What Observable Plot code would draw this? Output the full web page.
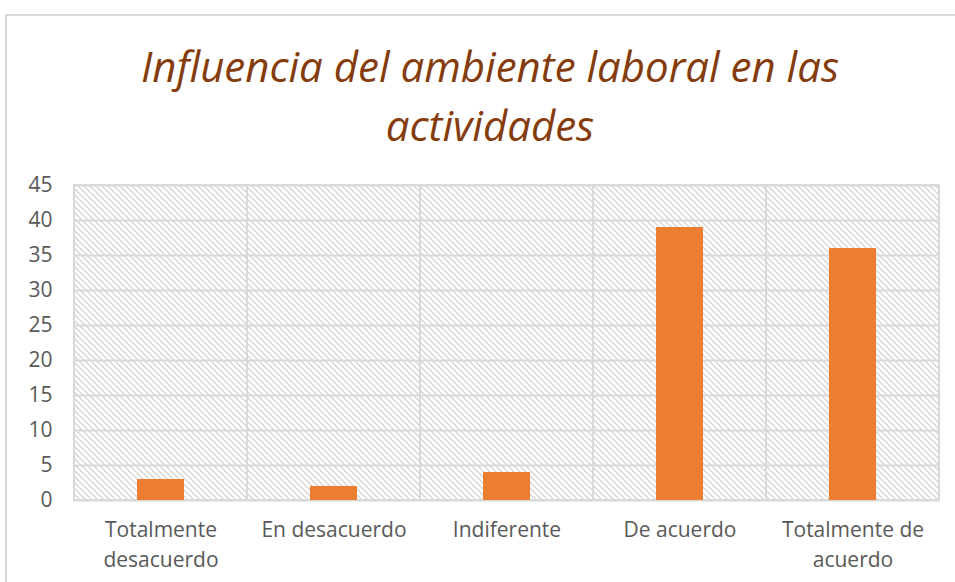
<!DOCTYPE html>
<html>
<head>
<meta charset="utf-8">
<script src="https://cdn.jsdelivr.net/npm/d3@7"></script>
<script src="https://cdn.jsdelivr.net/npm/@observablehq/plot@0.6"></script>
<style>
  html, body { margin: 0; padding: 0; background: #fff; overflow: hidden; width: 955px; height: 582px; }
  #frame { position: absolute; left: 5px; top: 14px; width: 970px; height: 600px; border: 2px solid #d9d9d9; box-sizing: border-box; }
  #title { position: absolute; left: 0; top: 36px; width: 980px; text-align: center; font-family: "Open Sans", Lato, sans-serif; font-style: italic; font-size: 42px; line-height: 59px; color: #843C0C; }
  #chart { position: absolute; left: 0; top: 150px; }
</style>
</head>
<body>
<div id="frame"></div>
<div id="title">Influencia del ambiente laboral en las<br>actividades</div>
<div id="chart"></div>
<script>
const categories = ["Totalmente desacuerdo", "En desacuerdo", "Indiferente", "De acuerdo", "Totalmente de acuerdo"];
const categoryLabels = ["Totalmente\ndesacuerdo", "En desacuerdo", "Indiferente", "De acuerdo", "Totalmente de\nacuerdo"];
const values = [3, 2, 4, 39, 36];
const yTicks = [0, 5, 10, 15, 20, 25, 30, 35, 40, 45];

const data = categories.map((c, i) => ({category: c, value: values[i]}));
const labelOf = new Map(categories.map((c, i) => [c, categoryLabels[i]]));
const yMax = yTicks[yTicks.length - 1];

const chart = Plot.plot({
  width: 955,
  height: 432,
  marginTop: 35,
  marginBottom: 82,
  marginLeft: 73,
  marginRight: 15,
  style: { fontFamily: "'Open Sans', Lato, sans-serif", fontSize: "21px", color: "#595959", background: "transparent" },
  x: { domain: categories, padding: 0, label: null },
  y: { domain: [0, yMax], ticks: yTicks, label: null },
  marks: [
    Plot.barY(categories, { x: d => d, y1: 0, y2: yMax, fill: "url(#hatch)", stroke: "#d9d9d9", strokeWidth: 2 }),
    Plot.ruleY(yTicks, { stroke: "#d9d9d9", strokeWidth: 2 }),
    Plot.barY(data, { x: "category", y: "value", fill: "#ED7D31", insetLeft: 63, insetRight: 63 }),
    Plot.axisY({ ticks: yTicks, tickSize: 0, tickPadding: 21, fontSize: 21, fill: "#595959" }),
    Plot.axisX({ tickSize: 0, tickPadding: 15, fontSize: 21, fill: "#595959", lineHeight: 1.43, tickFormat: d => labelOf.get(d) })
  ]
});

const ns = "http://www.w3.org/2000/svg";
const defs = document.createElementNS(ns, "defs");
const pat = document.createElementNS(ns, "pattern");
pat.setAttribute("id", "hatch");
pat.setAttribute("patternUnits", "userSpaceOnUse");
pat.setAttribute("width", "6");
pat.setAttribute("height", "6");
const bg = document.createElementNS(ns, "rect");
bg.setAttribute("width", "6"); bg.setAttribute("height", "6"); bg.setAttribute("fill", "#ffffff");
pat.appendChild(bg);
const p = document.createElementNS(ns, "path");
p.setAttribute("d", "M0,0 L6,6 M-1,5 L1,7 M5,-1 L7,1");
p.setAttribute("stroke", "#d4d4d4");
p.setAttribute("stroke-width", "1.3");
pat.appendChild(p);
defs.appendChild(pat);
chart.insertBefore(defs, chart.firstChild);

document.getElementById("chart").appendChild(chart);
</script>
</body>
</html>
